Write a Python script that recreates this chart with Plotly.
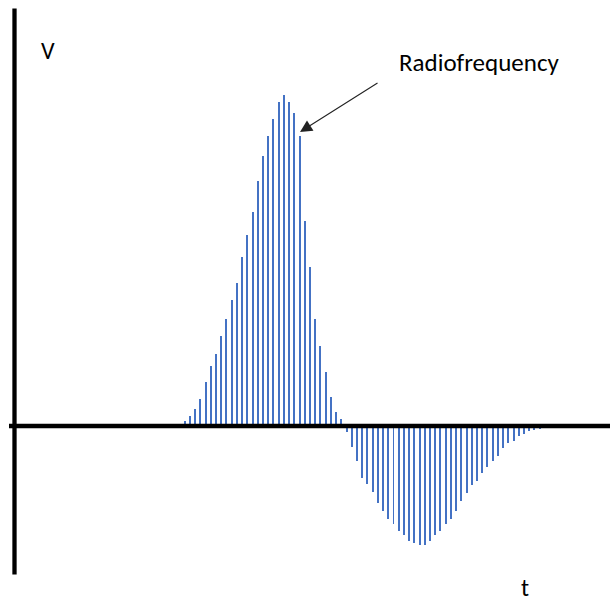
import plotly.graph_objects as go

# Sample amplitudes (arbitrary units)
positive_lobe = [5, 10, 17, 27, 44, 60, 72, 90, 107, 126, 143, 169, 191, 214, 245,
                 270, 290, 307, 324, 331, 324, 313, 290, 205, 159, 107, 80, 54, 29, 14, 7]
negative_lobe = [-6, -21, -35, -52, -58, -66, -77, -85, -93, -98, -105, -109, -115,
                 -117, -119, -119, -115, -109, -105, -98, -93, -85, -75, -67, -59,
                 -55, -47, -41, -35, -30, -22, -17, -15, -10, -8, -5, -4, -3]
values = positive_lobe + negative_lobe
samples = list(range(len(values)))

axis_label_v = "V"
axis_label_t = "t"
annotation_text = "Radiofrequency"

W, H = 610, 603
px_per_sample = 5.22
first_bar_px = 184.7
baseline_px = 426.0

x0 = -first_bar_px / px_per_sample
x1 = x0 + W / px_per_sample
y0 = -(H - baseline_px)
y1 = baseline_px

fig = go.Figure()
fig.add_trace(go.Bar(
    x=samples, y=values, width=0.38,
    marker=dict(color="#4472C4", line=dict(width=0)),
    hoverinfo="skip", showlegend=False,
))

def px_x(p):
    return p / W

def px_y(p):
    return 1 - p / H

font_family = "Carlito, Lato, 'Open Sans', sans-serif"

fig.update_layout(
    width=W, height=H,
    margin=dict(l=0, r=0, t=0, b=0),
    paper_bgcolor="white", plot_bgcolor="white",
    xaxis=dict(range=[x0, x1], visible=False, fixedrange=True),
    yaxis=dict(range=[y0, y1], visible=False, fixedrange=True),
    bargap=0,
    shapes=[
        # horizontal time axis at V = 0
        dict(type="line", xref="paper", yref="y", x0=px_x(9), x1=1, y0=0, y1=0,
             line=dict(color="black", width=4.5), layer="above"),
        # vertical V axis
        dict(type="line", xref="paper", yref="paper", x0=px_x(14.5), x1=px_x(14.5),
             y0=px_y(8.5), y1=px_y(574.5), line=dict(color="black", width=4.3),
             layer="above"),
    ],
    annotations=[
        dict(text=axis_label_v, xref="paper", yref="paper", x=px_x(48), y=px_y(51),
             showarrow=False, font=dict(family=font_family, size=24, color="black"),
             xanchor="center", yanchor="middle"),
        dict(text=axis_label_t, xref="paper", yref="paper", x=px_x(525), y=px_y(603),
             showarrow=False, font=dict(family=font_family, size=24, color="black"),
             xanchor="center", yanchor="bottom", borderpad=0),
        dict(text=annotation_text, xref="paper", yref="paper", x=px_x(479), y=px_y(63),
             showarrow=False, font=dict(family=font_family, size=25, color="black"),
             xanchor="center", yanchor="middle"),
        dict(text="", xref="paper", yref="paper", x=px_x(300), y=px_y(132),
             showarrow=True, ax=79, ay=-50, arrowhead=2, arrowsize=2.2,
             arrowwidth=1.1, arrowcolor="#222222", standoff=0),
    ],
)

fig.write_html(
    "out.html",
    config={"displayModeBar": False, "staticPlot": True},
    post_script="document.body.style.margin='0';document.body.style.overflow='hidden';",
)
